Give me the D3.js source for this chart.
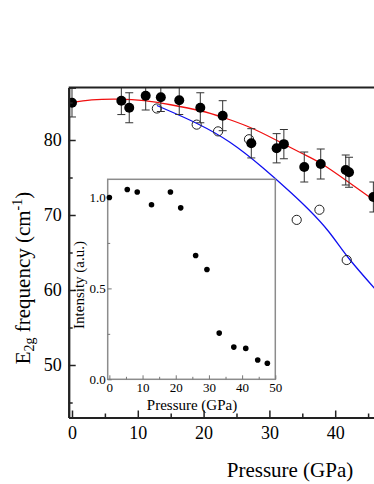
<!DOCTYPE html>
<html>
<head>
<meta charset="utf-8">
<script src="https://cdn.jsdelivr.net/npm/d3@7"></script>
<style>
  body { margin: 0; background: #fff; }
  svg { display: block; }
  text { font-family: "Liberation Serif", "Times New Roman", serif; fill: #000; }
</style>
</head>
<body>
<div id="chart"></div>
<script>
// main plot: E2g mode, filled circles with error bars
var pressureFilled = [0, 7.5, 8.7, 11.2, 13.5, 16.3, 19.5, 22.9, 27.25, 31.1, 32.2, 35.3, 37.8, 41.6, 42.1, 45.8];
var freqFilled = [84.97, 85.24, 84.3, 85.9, 85.7, 85.3, 84.3, 83.24, 79.56, 78.9, 79.45, 76.4, 76.8, 76.0, 75.7, 72.4];
var errFilled = [1.9, 1.85, 2.0, 1.9, 1.9, 1.9, 2.0, 2.0, 1.95, 1.95, 1.95, 2.0, 2.0, 2.0, 2.0, 2.0];

// open circles
var pressureOpen = [12.9, 18.95, 22.2, 26.9, 34.15, 37.6, 41.75];
var freqOpen = [84.2, 82.05, 81.15, 80.1, 69.35, 70.7, 64.0];

// fit curves
var redFitP = [0, 3, 7, 11, 15, 19.5, 23, 27, 31, 35, 38, 42, 46];
var redFitF = [85.0, 85.35, 85.45, 85.25, 84.7, 83.9, 83.0, 81.7, 80.0, 78.2, 76.8, 74.4, 71.9];
var blueFitP = [12.9, 15, 19, 24, 29, 33, 36, 39, 42, 46];
var blueFitF = [84.6, 83.8, 82.2, 79.7, 76.3, 73.2, 70.7, 67.8, 64.3, 60.2];

// inset: intensity
var insetP = [0, 5.4, 8.4, 12.7, 18.4, 21.5, 26, 29.4, 33.1, 37.5, 41.1, 44.7, 47.6];
var insetI = [1.0, 1.044, 1.03, 0.96, 1.03, 0.943, 0.681, 0.604, 0.254, 0.177, 0.17, 0.106, 0.088];

var mainXTicks = [0, 10, 20, 30, 40];
var mainXMinor = [5, 15, 25, 35, 45];
var mainYTicks = [50, 60, 70, 80];
var mainYMinor = [45, 55, 65, 75, 85];
var insetXTicks = [0, 10, 20, 30, 40, 50];
var insetXMinor = [5, 15, 25, 35, 45];
var insetYTicks = [0, 0.5, 1.0];
var insetYMinor = [0.25, 0.75];

var W = 374, H = 484;
var svg = d3.select("#chart").append("svg")
    .attr("width", W)
    .attr("height", H);

// scales
var x = d3.scaleLinear().domain([-0.5, 50]).range([68.7, 401]);
var y = d3.scaleLinear().domain([43, 87]).range([417.5, 87.5]);

var clip = svg.append("clipPath").attr("id", "plotclip")
  .append("rect")
    .attr("x", x(-0.5)).attr("y", y(87))
    .attr("width", x(50) - x(-0.5)).attr("height", y(43) - y(87));

var plot = svg.append("g").attr("clip-path", "url(#plotclip)");

// fit lines
var line = d3.line()
    .x(function(d) { return x(d[0]); })
    .y(function(d) { return y(d[1]); })
    .curve(d3.curveNatural);

plot.append("path")
    .datum(d3.zip(blueFitP, blueFitF))
    .attr("d", line)
    .attr("fill", "none")
    .attr("stroke", "#1010f0")
    .attr("stroke-width", 1.3);

plot.append("path")
    .datum(d3.zip(redFitP, redFitF))
    .attr("d", line)
    .attr("fill", "none")
    .attr("stroke", "#f01010")
    .attr("stroke-width", 1.3);

// open circles
plot.selectAll(".open")
    .data(d3.zip(pressureOpen, freqOpen))
    .enter()
    .append("circle")
    .attr("class", "open")
    .attr("cx", function(d) { return x(d[0]); })
    .attr("cy", function(d) { return y(d[1]); })
    .attr("r", 4.6)
    .attr("fill", "none")
    .attr("stroke", "#222")
    .attr("stroke-width", 1);

// error bars
var filled = pressureFilled.map(function(p, i) { return {p: p, f: freqFilled[i], e: errFilled[i]}; });
var eb = plot.selectAll(".err")
    .data(filled)
    .enter()
    .append("g")
    .attr("class", "err")
    .attr("stroke", "#333")
    .attr("stroke-width", 1);
eb.append("line")
    .attr("x1", function(d) { return x(d.p); })
    .attr("x2", function(d) { return x(d.p); })
    .attr("y1", function(d) { return y(d.f + d.e); })
    .attr("y2", function(d) { return y(d.f - d.e); });
eb.append("line")
    .attr("x1", function(d) { return x(d.p) - 4; })
    .attr("x2", function(d) { return x(d.p) + 4; })
    .attr("y1", function(d) { return y(d.f + d.e); })
    .attr("y2", function(d) { return y(d.f + d.e); });
eb.append("line")
    .attr("x1", function(d) { return x(d.p) - 4; })
    .attr("x2", function(d) { return x(d.p) + 4; })
    .attr("y1", function(d) { return y(d.f - d.e); })
    .attr("y2", function(d) { return y(d.f - d.e); });

// filled circles
plot.selectAll(".dot")
    .data(filled)
    .enter()
    .append("circle")
    .attr("class", "dot")
    .attr("cx", function(d) { return x(d.p); })
    .attr("cy", function(d) { return y(d.f); })
    .attr("r", 5)
    .attr("fill", "#000");

// main axes
function styleAxis(g, width) {
  g.select(".domain").attr("stroke", "#222").attr("stroke-width", width);
  g.selectAll(".tick line").attr("stroke", "#222").attr("stroke-width", 1.5);
  g.selectAll("text").attr("font-family", "Liberation Serif").attr("fill", "#000");
}

svg.append("g")
    .attr("transform", "translate(0," + y(43) + ")")
    .call(d3.axisBottom(x).tickValues(mainXMinor).tickSize(-4).tickSizeOuter(0).tickFormat(""))
    .call(styleAxis, 2);
svg.append("g")
    .attr("transform", "translate(0," + y(43) + ")")
    .call(d3.axisBottom(x).tickValues(mainXTicks).tickSize(-7).tickSizeOuter(0).tickPadding(9))
    .call(styleAxis, 2)
    .attr("font-size", 18);

svg.append("g")
    .attr("transform", "translate(" + x(-0.5) + ",0)")
    .call(d3.axisLeft(y).tickValues(mainYMinor).tickSize(-4).tickSizeOuter(0).tickFormat(""))
    .call(styleAxis, 2);
svg.append("g")
    .attr("transform", "translate(" + x(-0.5) + ",0)")
    .call(d3.axisLeft(y).tickValues(mainYTicks).tickSize(-7).tickSizeOuter(0).tickPadding(7))
    .call(styleAxis, 2)
    .attr("font-size", 18);

// top frame line
svg.append("line")
    .attr("x1", x(-0.5)).attr("x2", x(50))
    .attr("y1", y(87)).attr("y2", y(87))
    .attr("stroke", "#222")
    .attr("stroke-width", 2);

// axis titles
svg.append("text")
    .attr("x", 290).attr("y", 477)
    .attr("text-anchor", "middle")
    .attr("font-size", 21)
    .text("Pressure (GPa)");

var yt = svg.append("text")
    .attr("transform", "translate(30,278) rotate(-90)")
    .attr("text-anchor", "middle")
    .attr("font-size", 21);
yt.append("tspan").text("E");
yt.append("tspan").attr("font-size", 14).attr("dy", 4).text("2g");
yt.append("tspan").attr("dy", -4).text(" frequency (cm");
yt.append("tspan").attr("font-size", 14).attr("dy", -8).text("-1");
yt.append("tspan").attr("dy", 8).text(")");

// inset
var ix = d3.scaleLinear().domain([-0.5, 50]).range([107.7, 275.3]);
var iy = d3.scaleLinear().domain([0, 1.1]).range([379.3, 179.3]);

svg.append("rect")
    .attr("x", ix(-0.5)).attr("y", iy(1.1))
    .attr("width", ix(50) - ix(-0.5)).attr("height", iy(0) - iy(1.1))
    .attr("fill", "#fff")
    .attr("stroke", "#8c8c8c")
    .attr("stroke-width", 1.5);

function styleInset(g) {
  g.select(".domain").remove();
  g.selectAll(".tick line").attr("stroke", "#777").attr("stroke-width", 1);
  g.selectAll("text").attr("font-family", "Liberation Serif").attr("fill", "#000");
}

svg.append("g")
    .attr("transform", "translate(0," + iy(0) + ")")
    .call(d3.axisBottom(ix).tickValues(insetXMinor).tickSize(-2.5).tickFormat(""))
    .call(styleInset);
svg.append("g")
    .attr("transform", "translate(0," + iy(0) + ")")
    .call(d3.axisBottom(ix).tickValues(insetXTicks).tickSize(-4).tickPadding(3))
    .call(styleInset)
    .attr("font-size", 13);
svg.append("g")
    .attr("transform", "translate(" + ix(-0.5) + ",0)")
    .call(d3.axisLeft(iy).tickValues(insetYMinor).tickSize(-2.5).tickFormat(""))
    .call(styleInset);
svg.append("g")
    .attr("transform", "translate(" + ix(-0.5) + ",0)")
    .call(d3.axisLeft(iy).tickValues(insetYTicks).tickSize(-4).tickPadding(2).tickFormat(d3.format(".1f")))
    .call(styleInset)
    .attr("font-size", 13);

svg.selectAll(".idot")
    .data(d3.zip(insetP, insetI))
    .enter()
    .append("circle")
    .attr("class", "idot")
    .attr("cx", function(d) { return ix(d[0]); })
    .attr("cy", function(d) { return iy(d[1]); })
    .attr("r", 2.8)
    .attr("fill", "#000");

svg.append("text")
    .attr("x", 192).attr("y", 410)
    .attr("text-anchor", "middle")
    .attr("font-size", 15)
    .text("Pressure (GPa)");

svg.append("text")
    .attr("transform", "translate(84,285) rotate(-90)")
    .attr("text-anchor", "middle")
    .attr("font-size", 15)
    .text("Intensity (a.u.)");
</script>
</body>
</html>
